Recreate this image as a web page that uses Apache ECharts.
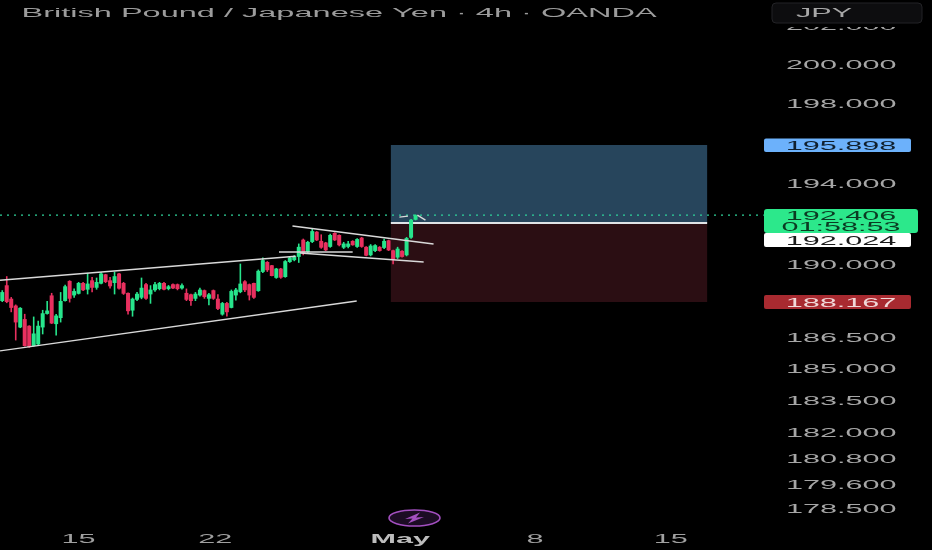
<!DOCTYPE html>
<html><head><meta charset="utf-8">
<style>html,body{margin:0;padding:0;background:#000}#c{width:932px;height:550px}</style>
<script src="https://cdn.jsdelivr.net/npm/echarts@6/dist/echarts.min.js"></script>
</head><body><div id="c"></div>
<script>
const titleText = 'British Pound / Japanese Yen · 4h · OANDA';
const currencyLabel = 'JPY';
const yTickValues = [202,200,198,194,190,186.5,185,183.5,182,180.8,179.6,178.5];
const yTickLabels = ['202.000','200.000','198.000','194.000','190.000','186.500','185.000','183.500','182.000','180.800','179.600','178.500'];
const xTickIndex = [17,47.4,88.6,118.6,148.8];
const xTickLabels = ['15','22','May','8','15'];
const entryPrice = 192.024, targetPrice = 195.898, stopPrice = 188.167, lastPrice = 192.406;
const countdown = '01:58:53';
// [open, close, low, high]
const candleValues = [
[188.22,188.65,188.17,188.74],[188.98,188.17,188.12,189.42],[188.33,187.89,187.68,188.41],[188.00,187.19,186.33,188.05],
[186.95,187.89,186.92,187.92],[187.35,186.06,186.04,187.60],[187.03,186.01,185.98,187.05],[186.06,186.66,186.04,187.47],
[186.14,187.03,186.11,187.27],[186.95,187.63,186.62,187.79],[187.60,187.76,187.57,188.22],[188.49,187.14,187.12,188.61],
[187.11,187.52,186.56,187.60],[187.40,188.22,187.19,188.65],[188.22,188.93,188.20,189.01],[189.19,188.33,188.15,189.22],
[188.49,188.70,188.38,188.82],[188.57,189.09,188.54,189.14],[189.09,188.74,188.70,189.14],[188.77,189.06,188.54,189.58],
[189.22,188.86,188.64,189.38],[188.86,189.14,188.77,189.35],[189.06,189.55,189.03,189.61],[189.51,189.14,189.09,189.53],
[189.22,188.93,188.83,189.38],[189.09,189.42,188.54,189.64],[189.55,188.82,188.77,189.58],[189.09,188.57,188.52,189.14],
[188.61,187.73,187.57,188.63],[187.76,188.33,187.47,188.38],[188.28,188.57,188.22,188.65],[188.38,188.86,188.31,189.35],
[189.03,188.33,188.28,189.09],[188.54,188.77,188.09,188.98],[188.74,189.03,188.67,189.14],[188.80,189.09,188.74,189.14],
[189.09,188.77,188.74,189.14],[188.80,188.93,188.74,188.99],[189.03,188.83,188.80,189.06],[189.03,188.80,188.74,189.06],
[188.83,188.98,188.77,189.06],[188.61,188.28,188.22,188.82],[188.54,188.22,187.99,188.57],[188.33,188.57,188.22,188.65],
[188.49,188.77,188.44,188.86],[188.74,188.41,188.33,188.77],[188.33,188.54,188.02,188.61],[188.74,188.33,188.28,188.77],
[188.33,187.84,187.79,188.54],[187.57,188.12,187.52,188.17],[188.12,187.68,187.47,188.17],[187.89,188.70,187.87,188.77],
[188.49,188.77,188.25,188.85],[188.65,189.06,188.60,190.03],[189.17,188.74,188.65,189.22],[189.03,188.49,188.25,189.06],
[189.09,188.38,188.33,189.10],[188.70,189.68,188.67,189.74],[189.63,190.20,189.58,190.33],[190.11,189.71,189.63,190.15],
[189.95,189.43,189.42,189.96],[189.34,189.79,189.30,189.82],[189.79,189.35,189.30,189.82],[189.38,190.15,189.35,190.20],
[190.11,190.33,190.07,190.36],[190.20,190.39,190.15,190.44],[190.36,190.85,190.07,191.01],[191.20,190.55,190.44,191.25],
[190.60,191.09,190.52,191.14],[191.09,191.62,191.04,191.74],[191.59,191.17,191.14,191.62],[191.14,190.81,190.76,191.46],
[191.06,190.68,190.65,191.09],[190.85,191.43,190.81,191.49],[191.53,191.17,191.14,191.56],[191.43,190.93,190.88,191.46],
[190.81,191.01,190.75,191.09],[190.85,191.01,190.78,191.14],[191.14,190.93,190.91,191.17],[190.85,191.23,190.81,191.27],
[191.30,190.85,190.81,191.33],[190.85,190.42,190.39,190.88],[190.44,190.91,190.39,190.98],[190.65,190.93,190.60,190.98],
[190.85,190.65,190.62,190.88],[190.80,191.14,190.75,191.25],[191.17,190.68,190.65,191.20],[190.68,190.23,190.00,190.71],
[190.33,190.76,190.26,190.85],[190.65,190.36,190.33,190.68],[190.44,191.28,190.39,191.33],[191.30,192.18,191.25,192.22],
[192.18,192.406,192.15,192.44]
];
const trendChannelUpper = [[-0.5,189.22],[65.3,190.39]];
const trendChannelLower = [[-0.5,185.83],[78.9,188.22]];
const trendFlat = [[61.6,190.60],[78.0,190.60]];
const trendPennantTop = [[64.6,191.87],[96.0,190.99]];
const trendPennantBottom = [[66.3,190.55],[93.8,190.11]];
const trendTickA = [[88.4,192.31],[90.3,192.36]];
const trendTickB = [[92.4,192.41],[94.2,192.16]];
const positionStart = 86.5, positionEnd = 156.9;
const xStart = -0.5, xEnd = 169.5;

const categories = Array.from({length:170},(_,i)=>String(i));
const STRETCH = 2.55, FONT = '"Liberation Sans", Arial, sans-serif';
const GREEN='#27e58c', RED='#e8305f';

function trend(data){
  return {type:'line',xAxisIndex:1,yAxisIndex:0,data,symbol:'none',z:6,silent:true,
    lineStyle:{color:'#d9d9d9',width:1.4}};
}
function stretched(x,y,text,fill,extra){
  return {type:'text',x,y:y+1.5,scaleX:STRETCH,z2:10,
    style:Object.assign({text,fill,font:'12px '+FONT,align:'center',verticalAlign:'middle'},extra||{})};
}
function tag(y,h,w,fill,r){
  return {type:'rect',z:30,shape:{x:764,y:y,width:w,height:h,r:r||2},style:{fill}};
}
function tagText(y,text,fill){
  return {type:'text',z:31,x:841,y:y+1,scaleX:STRETCH,
    style:{text,fill,font:'12px '+FONT,align:'center',verticalAlign:'middle'}};
}

const option = {
  animation:false,
  backgroundColor:'#000',
  grid:{left:-1.25,right:168.25,top:0,bottom:30},
  xAxis:[
    {type:'category',data:categories,show:false,boundaryGap:true},
    {type:'value',min:xStart,max:xEnd,show:false}
  ],
  yAxis:[{type:'log',min:177.95,max:203.31,show:false}],
  series:[
    {type:'custom',name:'position',xAxisIndex:1,yAxisIndex:0,z:1,silent:true,
     data:[[positionStart,positionEnd,targetPrice,entryPrice],[positionStart,positionEnd,entryPrice,stopPrice]],
     renderItem(p,api){
       const a=api.coord([api.value(0),api.value(2)]),b=api.coord([api.value(1),api.value(3)]);
       return {type:'rect',shape:{x:a[0],y:a[1],width:b[0]-a[0],height:b[1]-a[1]},
               style:{fill:['#27455c','#2b0e13'][p.dataIndex]}};
     }},
    {type:'line',name:'entry',xAxisIndex:1,yAxisIndex:0,z:3,symbol:'none',silent:true,
     data:[[positionStart,entryPrice],[positionEnd,entryPrice]],lineStyle:{color:'#dfe3e6',width:2}},
    {type:'line',name:'last',xAxisIndex:1,yAxisIndex:0,z:4,symbol:'none',silent:true,
     data:[[xStart,lastPrice],[xEnd,lastPrice]],lineStyle:{color:'#2fd29a',width:1.2,type:[2,5]}},
    {type:'custom',name:'GBPJPY',xAxisIndex:0,yAxisIndex:0,z:5,silent:true,
     data:candleValues.map((c,i)=>[i,c[0],c[1],c[2],c[3]]),
     encode:{x:0,y:[1,2,3,4]},
     renderItem(p,api){
       const i=api.value(0),o=api.value(1),c=api.value(2),l=api.value(3),h=api.value(4);
       const x=api.coord([i,o])[0], yo=api.coord([i,o])[1], yc=api.coord([i,c])[1], yl=api.coord([i,l])[1], yh=api.coord([i,h])[1];
       const fill=c>=o?GREEN:RED, bw=4, ww=1.6;
       return {type:'group',children:[
         {type:'rect',shape:{x:x-ww/2,y:yh,width:ww,height:yl-yh},style:{fill}},
         {type:'rect',shape:{x:x-bw/2,y:Math.min(yo,yc),width:bw,height:Math.max(Math.abs(yo-yc),1.5)},style:{fill}}
       ]};
     }},
    trend(trendChannelUpper),trend(trendChannelLower),trend(trendFlat),
    trend(trendPennantTop),trend(trendPennantBottom),trend(trendTickA),trend(trendTickB),
    {type:'custom',name:'yTicks',xAxisIndex:1,yAxisIndex:0,z:8,silent:true,
     data:yTickValues.map(v=>[xEnd,v]),
     renderItem(p,api){
       const c=api.coord([api.value(0),api.value(1)]);
       return stretched(c[0]+77.5,c[1],yTickLabels[p.dataIndex],'#a6a6a6');
     }},
    {type:'custom',name:'xTicks',xAxisIndex:1,yAxisIndex:0,z:8,silent:true,
     data:xTickIndex.map(v=>[v,177.95]),
     renderItem(p,api){
       const c=api.coord([api.value(0),api.value(1)]);
       const t=xTickLabels[p.dataIndex];
       return stretched(c[0],c[1]+18.5,t,t==='May'?'#bdbdbd':'#a0a0a0',t==='May'?{font:'bold 12px '+FONT}:null);
     }}
  ],
  graphic:[
    {type:'rect',z:20,shape:{x:764,y:0,width:168,height:27},style:{fill:'#000'}},
    {type:'rect',z:21,shape:{x:772,y:3,width:150,height:20,r:4},style:{fill:'#0d0d0f',stroke:'#232326',lineWidth:1}},
    {type:'text',z:22,x:824,y:14,scaleX:STRETCH,style:{text:currencyLabel,fill:'#a8a8a8',font:'12px '+FONT,align:'center',verticalAlign:'middle'}},
    {type:'text',z:22,x:21.5,y:13.5,scaleX:2.71,style:{text:titleText,fill:'#9c9c9c',font:'12px '+FONT,align:'left',verticalAlign:'middle'}},
    tag(138.5,13.5,147,'#6cb1fb'),tagText(145.5,targetPrice.toFixed(3),'#10202e'),
    tag(233,14,147,'#ffffff'),tagText(240.5,entryPrice.toFixed(3),'#1a1a1a'),
    tag(209,24,154,'#2ce88b',3),tagText(215.5,lastPrice.toFixed(3),'#0b3a22'),tagText(226.5,countdown,'#0b3a22'),
    tag(295,14,147,'#a82a30'),tagText(302.5,stopPrice.toFixed(3),'#f0d8d8'),
    {type:'ellipse',z:25,shape:{cx:414.5,cy:518,rx:25.5,ry:8},style:{fill:'#1c0c24',stroke:'#a34fc0',lineWidth:1.6}},
    {type:'polygon',z:26,shape:{points:[[420,512.5],[405,519],[412.5,518.6],[408,523.5],[424,517],[416,517.4]]},style:{fill:'#a34fc0'}}
  ]
};
const chart = echarts.init(document.getElementById('c'),null,{width:932,height:550});
chart.setOption(option);
</script></body></html>
